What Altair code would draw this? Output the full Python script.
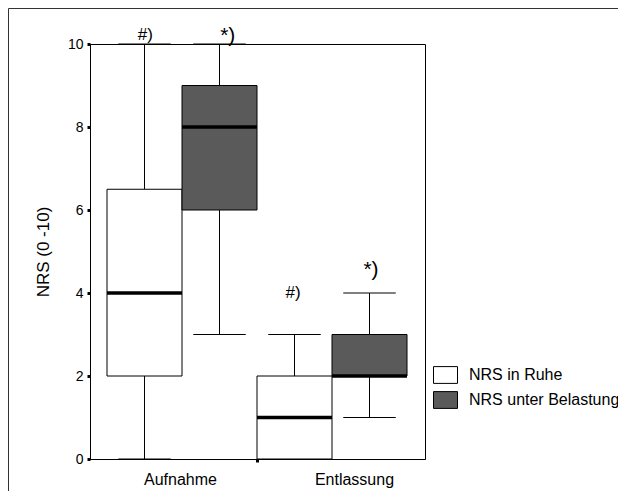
import altair as alt
import pandas as pd

# ---- data ----
groups = ["Aufnahme", "Entlassung"]
series = ["NRS in Ruhe", "NRS unter Belastung"]

box_group = ["Aufnahme", "Aufnahme", "Entlassung", "Entlassung"]
box_series = ["NRS in Ruhe", "NRS unter Belastung", "NRS in Ruhe", "NRS unter Belastung"]
q1 = [2, 6, 0, 2]
q3 = [6.5, 9, 2, 3]
median = [4, 8, 1, 2]
whisker_low = [0, 3, 0, 1]
whisker_high = [10, 10, 3, 4]

ann_text = ["#)", "*)", "#)", "*)"]
ann_x = [0.51, 1.61, 2.48, 3.52]
ann_y = [10.1, 10.04, 3.88, 4.41]

y_ticks = [0, 2, 4, 6, 8, 10]
group_label_pos = [0.973, 3.293]
group_divider = 2

FONT = "Liberation Sans"
CAP = 0.35

rows = []
for i in range(len(q1)):
    rows.append(dict(group=box_group[i], series=box_series[i],
                     left=i, right=i + 1, mid=i + 0.5,
                     cl=i + 0.5 - CAP, cr=i + 0.5 + CAP,
                     q1=q1[i], q3=q3[i], median=median[i],
                     wlo=whisker_low[i], whi=whisker_high[i]))
df = pd.DataFrame(rows)
ann = pd.DataFrame({"text": ann_text, "x": ann_x, "y": ann_y})

xscale = alt.Scale(domain=[-17 / 75, 4 + 18 / 75], nice=False, zero=False)
yscale = alt.Scale(domain=[0, 10], nice=False, zero=False)

label_expr = (f"datum.value == {group_divider} ? '' : "
              f"(datum.value < {group_divider} ? '{groups[0]}' : '{groups[1]}')")

x_axis = alt.Axis(values=group_label_pos + [group_divider], labelExpr=label_expr,
                  title=None, grid=False, tickSize=3, tickWidth=3,
                  tickOpacity={"condition": {"test": f"datum.value == {group_divider}", "value": 1}, "value": 0},
                  labelFontSize=16, labelPadding=9, labelOverlap=False, labelFlush=False)
y_axis = alt.Axis(values=y_ticks, grid=False, tickSize=3, tickWidth=3,
                  labelFontSize=14, labelPadding=4,
                  title="NRS (0 -10)", titleFontSize=17, titleFontWeight="normal",
                  titleX=-47, titleY=207.5, titleAngle=270, titleAlign="center",
                  titleBaseline="middle")

base = alt.Chart(df)

border = alt.Chart(pd.DataFrame({"a": [0]})).mark_rect(
    fill=None, stroke="#333333", strokeWidth=1
).encode(x=alt.value(-81.5), x2=alt.value(2000), y=alt.value(-35.5), y2=alt.value(2000))

whisk_lo = base.mark_rule(color="black", strokeWidth=1).encode(
    x=alt.X("mid:Q", scale=xscale, axis=x_axis),
    y=alt.Y("wlo:Q", scale=yscale, axis=y_axis),
    y2="q1:Q")
whisk_hi = base.mark_rule(color="black", strokeWidth=1).encode(
    x=alt.X("mid:Q", scale=xscale), y=alt.Y("q3:Q", scale=yscale), y2="whi:Q")
cap_lo = base.mark_rule(color="black", strokeWidth=1).encode(
    x=alt.X("cl:Q", scale=xscale), x2="cr:Q", y=alt.Y("wlo:Q", scale=yscale))
cap_hi = base.mark_rule(color="black", strokeWidth=1).encode(
    x=alt.X("cl:Q", scale=xscale), x2="cr:Q", y=alt.Y("whi:Q", scale=yscale))

boxes = base.mark_rect(stroke="black", strokeWidth=1).encode(
    x=alt.X("left:Q", scale=xscale), x2="right:Q",
    y=alt.Y("q1:Q", scale=yscale), y2="q3:Q",
    fill=alt.Fill("series:N",
                  scale=alt.Scale(domain=series, range=["#ffffff", "#5a5a5a"]),
                  legend=alt.Legend(title=None, orient="none", legendX=343, legendY=318.5,
                                    symbolType="M-1,-0.7H1V0.7H-1Z", symbolSize=576,
                                    symbolStrokeColor="black", symbolStrokeWidth=1,
                                    symbolOpacity=1, labelFontSize=16, labelFont=FONT,
                                    labelColor="black", labelOffset=11, rowPadding=2,
                                    padding=0)))
med = base.mark_rule(color="black", strokeWidth=3.5).encode(
    x=alt.X("left:Q", scale=xscale), x2="right:Q", y=alt.Y("median:Q", scale=yscale))

annb = alt.Chart(ann)
ann_hash = annb.transform_filter(alt.datum.text == "#)").mark_text(
    font=FONT, fontSize=17, align="center", baseline="alphabetic", color="black"
).encode(x=alt.X("x:Q", scale=xscale), y=alt.Y("y:Q", scale=yscale), text="text:N")
ann_star = annb.transform_filter(alt.datum.text == "*)").mark_text(
    font=FONT, fontSize=21, align="center", baseline="alphabetic", color="black"
).encode(x=alt.X("x:Q", scale=xscale), y=alt.Y("y:Q", scale=yscale), text="text:N")

chart = alt.layer(border, whisk_lo, whisk_hi, cap_lo, cap_hi, boxes, med, ann_hash, ann_star).properties(
    width=335, height=415,
    autosize=alt.AutoSizeParams(type="none"),
    padding={"left": 82, "top": 36, "right": 193, "bottom": 32},
).configure(
    font=FONT, background="white"
).configure_view(
    stroke="black", strokeWidth=1
).configure_axis(
    domainColor="black", tickColor="black", labelColor="black", titleColor="black",
    labelFont=FONT, titleFont=FONT, domainWidth=1
)

chart.save("out.html", embed_options={"renderer": "svg", "actions": False})
